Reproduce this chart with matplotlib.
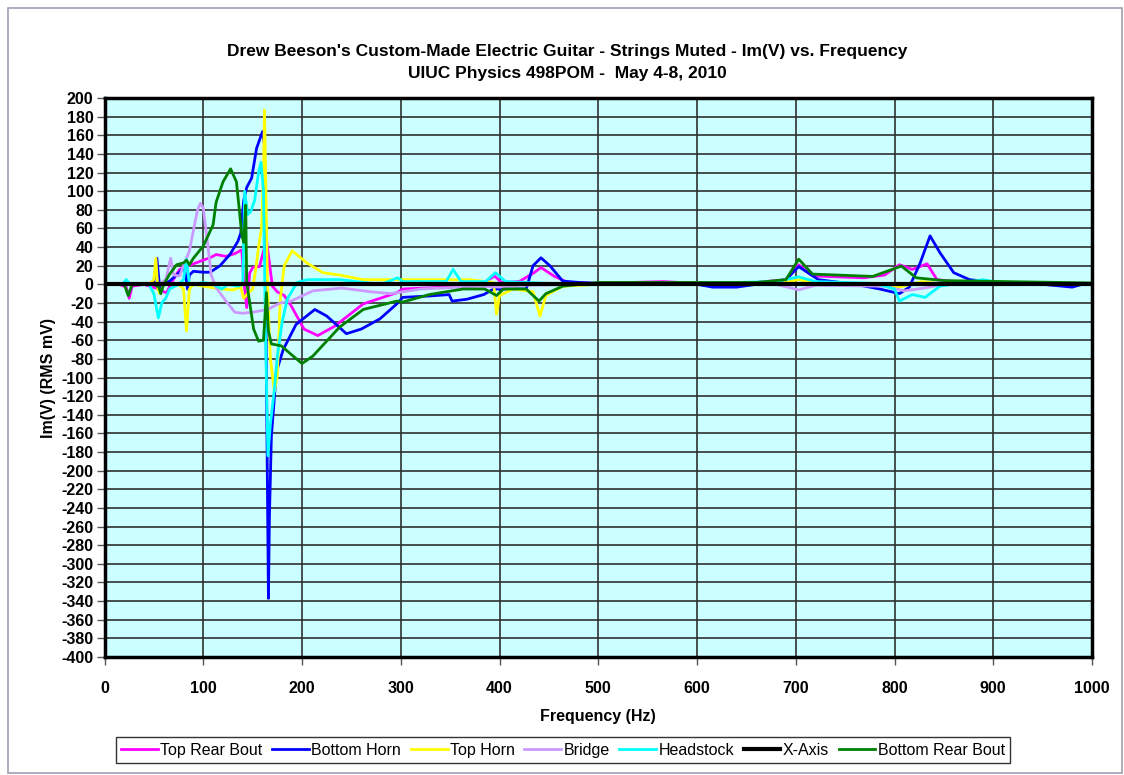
import matplotlib
matplotlib.use("Agg")
import matplotlib.pyplot as plt
from matplotlib.patches import Rectangle

plt.rcParams['font.family'] = ['Liberation Sans', 'DejaVu Sans']
plt.rcParams['axes.unicode_minus'] = False

# ---------------- data ----------------
trb_f = [0, 15, 22, 25, 28, 40, 55, 60, 63, 68, 76, 90, 100, 107, 113, 123, 132, 139, 141, 144, 147, 150, 157,
         164, 170, 175, 182, 189, 202, 216, 233, 262, 296, 302, 346, 380, 395, 402, 420, 435, 442, 455, 469,
         500, 566, 600, 650, 690, 703, 717, 769, 790, 805, 818, 833, 843, 870, 1000]
trb_v = [0, 0, -3, -15, -2, 0, -5, -8, -9, 2, 16, 22, 26, 28.5, 32, 30, 33, 37, 5, -25, 12, 18, 19,
         48, -2, -8, -12, -23, -48, -55, -45, -21, -9, -5, -3, -1, 9, 2, 3, 12.5, 18, 9, 2,
         1, 3, 1, 1, 5, 21, 9, 7, 10, 21, 16, 22, 5, 2, 0]

bh_f = [0, 45, 50, 53, 56, 60, 66, 75, 81, 84, 86, 90, 100, 107, 117, 127, 135, 138, 141, 144, 149, 154, 160,
        162, 164, 166, 167, 169, 174, 181, 194, 213, 225, 245, 260, 279, 296, 302, 329, 349, 352, 367, 384,
        394, 414, 427, 434, 442, 451, 464, 481, 520, 560, 600, 616, 640, 660, 690, 703, 723, 760, 785, 805,
        815, 826, 836, 846, 860, 876, 903, 950, 980, 990, 1000]
bh_v = [0, 0, 2, 28, -5, 0, 3.5, 12, 18, -5, 10, 14, 13, 13, 20, 32, 46, 55, 90, 104, 114, 146, 164,
        150, -100, -337, -250, -163, -94, -70, -43, -27, -34, -53, -48, -37, -21, -14, -12.5, -11, -18, -16, -11,
        -5, -5, -5, 20, 28.5, 20, 3.5, 2, 0, 0, 0, -3, -3, 0, 5, 19, 5, 0, -5, -10,
        -3, 23, 52, 34, 12.5, 5, 2, 0, -3, 0, 0]

th_f = [0, 45, 50, 52, 54, 56, 60, 75, 80, 83, 86, 90, 100, 118, 130, 138, 141, 145, 150, 153, 156, 159, 161,
        162, 163, 165, 168, 172, 175, 178, 182, 190, 205, 221, 238, 262, 296, 346, 370, 394, 397, 400, 414,
        434, 441, 447, 464, 500, 680, 703, 720, 790, 805, 828, 850, 1000]
th_v = [0, 0, 5, 28, -5, -10, 0, 0, -5, -50, -5, 0, -2, -5, -6, -3, -15, -10, -5, 15, 40, 60, 120,
        187, 130, 0, -80, -115, -98, -16, 20, 36, 23, 12.5, 10, 5, 5, 5, 5, 2, -32, -12, -5,
        -8, -34, -12, -2, 0, 0, 5, 1, 0, -3, 3, 0, 0]

br_f = [0, 55, 62, 67, 70, 76, 86, 94, 97, 100, 105, 108, 113, 123, 132, 140, 150, 165, 178, 189, 211, 240,
        270, 290, 320, 380, 400, 420, 500, 680, 703, 720, 790, 810, 830, 850, 1000]
br_v = [0, 0, 5, 28, 10, 9, 36, 79, 87, 82, 39, 10, -3.5, -18, -30, -31, -30, -27, -20, -18, -7, -4,
        -8, -10, -5, -2, -3, -1, 0, 0, -6, -1, -2, -7, -4, 0, 0]

hs_f = [0, 18, 22, 26, 45, 50, 54.5, 58, 62, 66, 75, 80, 83, 86, 90, 100, 110, 119, 125, 135, 140, 142, 145,
        148, 152, 156, 158.5, 161, 163, 165.5, 168, 172, 175, 180, 185, 195, 205, 238, 280, 297, 302, 346,
        353, 361, 386, 396, 406, 450, 600, 680, 703, 720, 780, 800, 805, 818, 831, 846, 870, 890, 910, 1000]
hs_v = [0, 0, 5, 0, 0, -10, -36, -20, -15, -5, 0, 5, 27, 0, 0, 2, 0, -5, 0, -2, 0, 100, 75,
        78, 90, 120, 131, 100, -50, -184, -150, -113, -77, -40, -16, 2, 5, 5, 0, 7, 3, 3,
        16, 3, 3, 12.5, 3, 1, 1, 3, 8, 3, 1, -5, -18, -11, -14, -2, 2, 5, 1, 0]

xa_f = [0, 1000]
xa_v = [0, 0]

brb_f = [0, 20, 24, 28, 50, 55, 57, 60, 66, 73, 80, 83, 86, 90, 100, 110, 113, 120, 127.7, 133.6, 137, 139,
         141, 143, 144, 151, 156, 161, 164, 166, 169, 179, 191, 200, 211, 238, 262, 296, 302, 329, 363, 385,
         397, 404, 427, 440, 447, 464, 500, 660, 690, 703, 717, 778, 807, 822, 850, 1000]
brb_v = [0, 0, -12, 0, 0, -3, -10, 0, 11, 21, 23, 26, 21, 28, 41, 64, 88, 110, 124, 110, 75, 53,
         45, 85, 2, -48, -61, -60, -9, -50, -64, -66, -77, -85, -77, -46, -27, -18, -19, -11, -5, -5,
         -12, -5, -5, -18, -10, -2, 2, 2, 5, 27, 11, 8.5, 19.6, 7, 4, 1.5]

series = [
    ("Top Rear Bout", trb_f, trb_v, "#FF00FF", 2.0),
    ("Bottom Horn", bh_f, bh_v, "#0000FF", 2.0),
    ("Top Horn", th_f, th_v, "#FFFF00", 2.0),
    ("Bridge", br_f, br_v, "#CC99FF", 2.0),
    ("Headstock", hs_f, hs_v, "#00FFFF", 2.0),
    ("X-Axis", xa_f, xa_v, "#000000", 3.0),
    ("Bottom Rear Bout", brb_f, brb_v, "#008000", 2.0),
]

title = "Drew Beeson's Custom-Made Electric Guitar - Strings Muted - Im(V) vs. Frequency\nUIUC Physics 498POM -  May 4-8, 2010"

# ---------------- figure ----------------
fig = plt.figure(figsize=(11.24, 7.75), dpi=100)
fig.patch.set_facecolor("white")
fig.add_artist(Rectangle((8 / 1124, 2 / 775), 1114 / 1124, 765 / 775, transform=fig.transFigure,
                         fill=False, edgecolor="#A0A0B4", linewidth=1.2))

ax = fig.add_axes([104.5 / 1124, 1 - 657 / 775, (1092 - 104.5) / 1124, (657 - 98) / 775])
ax.set_facecolor("#CCFFFF")

handles = {}
for name, f, v, c, lw in series:
    h, = ax.plot(f, v, color=c, lw=lw, label=name, zorder=3)
    handles[name] = h
handles["X-Axis"].set_zorder(4)

ax.set_xlim(0, 1000)
ax.set_ylim(-400, 200)
ax.set_xticks(range(0, 1001, 100))
ax.set_yticks(range(-400, 201, 20))
ax.grid(True, color="#303030", linewidth=1.2, zorder=1)
ax.set_axisbelow(True)
for s in ax.spines.values():
    s.set_linewidth(2.5)
    s.set_color("black")
ax.tick_params(axis="both", direction="out", length=6, width=1, color="#555555",
               labelsize=11.5, pad=2)
ax.tick_params(axis="x", pad=11)
for lab in ax.get_xticklabels() + ax.get_yticklabels():
    lab.set_fontweight("bold")

ax.set_xlabel("Frequency (Hz)", fontsize=11.5, fontweight="bold", labelpad=10)
ax.set_ylabel("Im(V) (RMS mV)", fontsize=11.5, fontweight="bold", labelpad=4)

fig.text(0.5045, 0.919, title, ha="center", va="center", fontsize=12.5, fontweight="bold",
         linespacing=1.6)

names = [s[0] for s in series]
leg = fig.legend([handles[n] for n in names], names, loc="center", bbox_to_anchor=(0.501, 0.032),
                 ncol=7, fontsize=11.5, frameon=True, fancybox=False, edgecolor="black",
                 handlelength=2.3, handletextpad=0.15, columnspacing=0.6, borderpad=0.35)
leg.get_frame().set_linewidth(1.0)

fig.savefig("out.png", dpi=100, facecolor="white")
